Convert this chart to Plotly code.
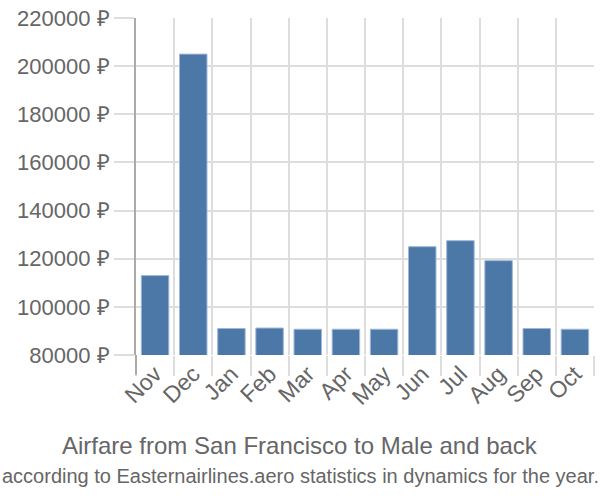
import plotly.graph_objects as go

months = ["Nov", "Dec", "Jan", "Feb", "Mar", "Apr", "May", "Jun", "Jul", "Aug", "Sep", "Oct"]
prices = [113000, 205000, 91000, 91200, 90700, 90700, 90700, 125000, 127500, 119200, 91000, 90700]
y_ticks = [80000, 100000, 120000, 140000, 160000, 180000, 200000, 220000]
y_labels = [f"{v} ₽" for v in y_ticks]

title = "Airfare from San Francisco to Male and back"
subtitle = "according to Easternairlines.aero statistics in dynamics for the year."

grid = "#dddddd"
txt = "#666666"
axis_col = "#aaaaaa"

fig = go.Figure(go.Bar(
    x=months, y=prices,
    marker=dict(color="#4c78a8", line=dict(color="#9fb8d6", width=1)),
    width=0.72,
))

fig.update_layout(
    width=600, height=500,
    margin=dict(l=136, r=6, t=15, b=145),
    paper_bgcolor="white", plot_bgcolor="white",
    font=dict(family="Liberation Sans, Arial, sans-serif", color=txt, size=20),
    showlegend=False,
    xaxis=dict(
        type="category", tickson="boundaries", ticks="outside", ticklen=20,
        tickcolor=grid, tickwidth=2, showgrid=True, gridcolor=grid, gridwidth=2,
        tickangle=-45, tickfont=dict(size=23, color=txt), showline=False,
    ),
    yaxis=dict(
        range=[80000, 220000], tickvals=y_ticks, ticktext=y_labels,
        ticks="outside", ticklen=20, tickcolor=grid, tickwidth=2,
        showgrid=True, gridcolor=grid, gridwidth=2,
        showline=True, linecolor=axis_col, linewidth=2,
        tickfont=dict(size=22, color=txt), zeroline=False,
    ),
)

# extend the left axis line below the plot area like the reference
fig.add_shape(type="line", xref="paper", yref="paper", x0=0, x1=0,
              y0=0, y1=-20 / 340, line=dict(color=axis_col, width=2))

plot_h = 500 - 15 - 145
plot_w = 600 - 136 - 6
for text, py, size in [(title, 446, 24), (subtitle, 477, 20)]:
    fig.add_annotation(
        text=text, showarrow=False, xref="paper", yref="paper",
        x=(300 - 136) / plot_w, xanchor="center",
        y=(500 - 145 - py) / plot_h, yanchor="middle",
        font=dict(size=size, color=txt),
    )

fig.write_html("out.html")
